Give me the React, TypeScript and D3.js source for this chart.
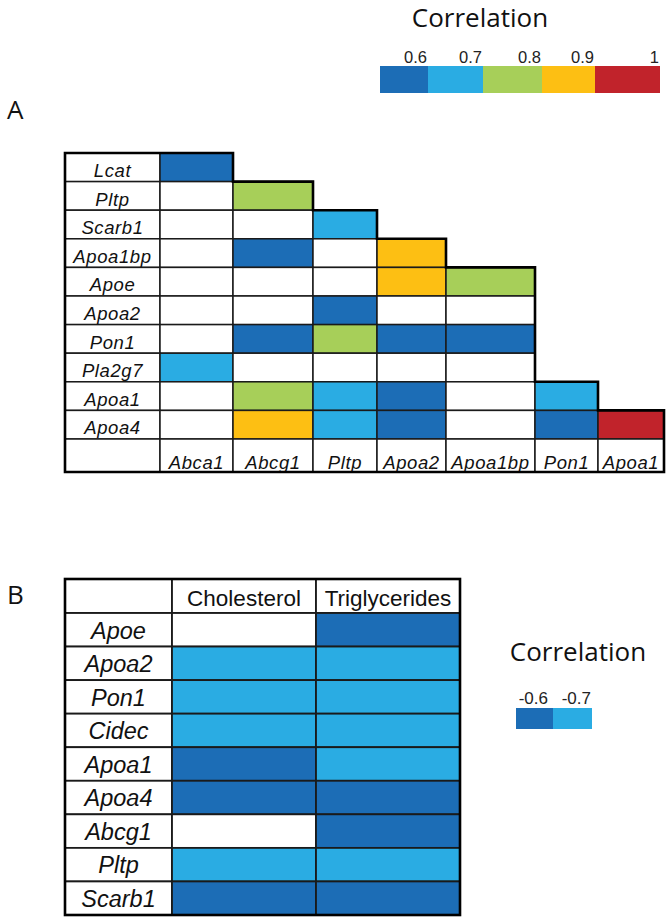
import React from "react";
import * as d3 from "d3";

// ---------- data ----------
const legendLevels = [0.6, 0.7, 0.8, 0.9, 1];
const legendColors = ["#1c6db6", "#2aace3", "#a7cf59", "#fdbf13", "#c1232b"];
const legendTickLabels = ["0.6", "0.7", "0.8", "0.9", "1"];

const rowsA = ["Lcat", "Pltp", "Scarb1", "Apoa1bp", "Apoe", "Apoa2", "Pon1", "Pla2g7", "Apoa1", "Apoa4"];
const colsA = ["Abca1", "Abcg1", "Pltp", "Apoa2", "Apoa1bp", "Pon1", "Apoa1"];
const valuesA: (number | null)[][] = [
  [0.6],
  [null, 0.8],
  [null, null, 0.7],
  [null, 0.6, null, 0.9],
  [null, null, null, 0.9, 0.8],
  [null, null, 0.6, null, null],
  [null, 0.6, 0.8, 0.6, 0.6],
  [0.7, null, null, null, null],
  [null, 0.8, 0.7, 0.6, null, 0.7],
  [null, 0.9, 0.7, 0.6, null, 0.6, 1],
];

const rowsB = ["Apoe", "Apoa2", "Pon1", "Cidec", "Apoa1", "Apoa4", "Abcg1", "Pltp", "Scarb1"];
const colsB = ["Cholesterol", "Triglycerides"];
const cholesterolB: (number | null)[] = [null, -0.7, -0.7, -0.7, -0.6, -0.6, null, -0.7, -0.6];
const triglyceridesB: (number | null)[] = [-0.6, -0.7, -0.7, -0.7, -0.7, -0.6, -0.6, -0.7, -0.6];
const legendBLevels = [-0.6, -0.7];
const legendBTickLabels = ["-0.6", "-0.7"];

// ---------- layout ----------
const W = 672;
const H = 923;
const LABEL_FONT = "'Liberation Sans', Arial, sans-serif";
const TITLE_FONT = "'Open Sans', 'Noto Sans', sans-serif";
const LINE = "#1a1a1a";

const legendX0 = 380;
const legendSegW = [48, 55, 59, 53, 65];
const legendY = 66;
const legendH = 27;

const aX0 = 65;
const aLabelW = 95;
const aColW = [73, 80, 64, 69, 89, 63, 66];
const aTop = 153;
const aRowsBottom = 439;
const aHeaderH = 33;

const bX0 = 65;
const bLabelW = 107;
const bColW = [144, 144];
const bTop = 579;
const bHeaderH = 34;
const bBottom = 915;

const bLegX0 = 516;
const bLegSegW = [37, 39];
const bLegY = 708;
const bLegH = 21;

const color = d3.scaleOrdinal<number, string>().domain(legendLevels).range(legendColors);
const colorB = d3.scaleOrdinal<number, string>().domain(legendBLevels).range([legendColors[0], legendColors[1]]);

function edges(x0: number, widths: number[]) {
  return [x0, ...Array.from(d3.cumsum(widths), (c) => x0 + c)];
}

export default function App() {
  // top legend
  const legEdges = edges(legendX0, legendSegW);
  const legX = d3.scaleOrdinal<number, number>().domain(legendLevels).range(legEdges.slice(0, -1));

  // panel A
  const aEdges = edges(aX0, [aLabelW, ...aColW]);
  const aY = d3.scaleBand<string>().domain(rowsA).range([aTop, aRowsBottom]).padding(0);
  const aBW = aY.bandwidth();
  const aHeaderTop = aRowsBottom;
  const aBottom = aRowsBottom + aHeaderH;

  // staircase outline
  const outline = d3.path();
  outline.moveTo(aX0, aTop);
  rowsA.forEach((r, i) => {
    const right = aEdges[valuesA[i].length + 1];
    const top = aY(r)!;
    outline.lineTo(right, top);
    const nextTop = i < rowsA.length - 1 ? aY(rowsA[i + 1])! : aHeaderTop;
    outline.lineTo(right, nextTop);
  });
  const fullRight = aEdges[aEdges.length - 1];
  outline.lineTo(fullRight, aHeaderTop);
  outline.lineTo(fullRight, aBottom);
  outline.lineTo(aX0, aBottom);
  outline.closePath();

  // panel B
  const bEdges = edges(bX0, [bLabelW, ...bColW]);
  const bY = d3.scaleBand<string>().domain(rowsB).range([bTop + bHeaderH, bBottom]).padding(0);
  const bBW = bY.bandwidth();
  const bValues = [cholesterolB, triglyceridesB];

  const bLegEdges = edges(bLegX0, bLegSegW);

  return (
    <svg width={W} height={H} style={{ position: "absolute", left: 0, top: 0, background: "#fff" }}>
      <rect x={0} y={0} width={W} height={H} fill="#fff" />

      {/* Top legend */}
      <text x={480} y={27} fontFamily={TITLE_FONT} fontSize={26} textAnchor="middle" fill="#111">
        Correlation
      </text>
      {legendLevels.map((lv, i) => (
        <g key={"leg" + i}>
          <rect x={legX(lv)} y={legendY} width={legendSegW[i]} height={legendH} fill={color(lv)} />
          <text
            x={legX(lv) + legendSegW[i] - 1}
            y={legendY - 3}
            fontFamily={LABEL_FONT}
            fontSize={16.5}
            textAnchor="end"
            fill="#222"
          >
            {legendTickLabels[i]}
          </text>
        </g>
      ))}

      {/* Panel A */}
      <text x={7} y={119} fontFamily={TITLE_FONT} fontSize={26} fill="#111">A</text>
      {rowsA.map((r, i) => {
        const y = aY(r)!;
        return (
          <g key={"ra" + r + i}>
            <rect x={aEdges[0]} y={y} width={aLabelW} height={aBW} fill="#fff" stroke={LINE} strokeWidth={1.5} />
            <text
              x={aEdges[0] + aLabelW / 2}
              y={y + aBW * 0.84}
              fontFamily={LABEL_FONT}
              fontStyle="italic"
              fontSize={18.5}
              letterSpacing={0.6}
              textAnchor="middle"
              fill="#111"
            >
              {r}
            </text>
            {valuesA[i].map((v, j) => (
              <rect
                key={"ca" + j}
                x={aEdges[j + 1]}
                y={y}
                width={aColW[j]}
                height={aBW}
                fill={v === null ? "#fff" : color(v)}
                stroke={LINE}
                strokeWidth={1.5}
              />
            ))}
          </g>
        );
      })}
      {/* header row A */}
      <rect x={aEdges[0]} y={aHeaderTop} width={aLabelW} height={aHeaderH} fill="#fff" stroke={LINE} strokeWidth={1.5} />
      {colsA.map((c, j) => (
        <g key={"ha" + j}>
          <rect x={aEdges[j + 1]} y={aHeaderTop} width={aColW[j]} height={aHeaderH} fill="#fff" stroke={LINE} strokeWidth={1.5} />
          <text
            x={aEdges[j + 1] + aColW[j] / 2}
            y={aBottom - 3}
            fontFamily={LABEL_FONT}
            fontStyle="italic"
            fontSize={18.5}
            letterSpacing={0.6}
            textAnchor="middle"
            fill="#111"
          >
            {c}
          </text>
        </g>
      ))}
      <path d={outline.toString()} fill="none" stroke="#000" strokeWidth={2.6} strokeLinejoin="miter" />

      {/* Panel B */}
      <text x={7} y={604} fontFamily={TITLE_FONT} fontSize={26} fill="#111">B</text>
      <rect x={bEdges[0]} y={bTop} width={bLabelW} height={bHeaderH} fill="#fff" stroke={LINE} strokeWidth={1.8} />
      {colsB.map((c, j) => (
        <g key={"hb" + j}>
          <rect x={bEdges[j + 1]} y={bTop} width={bColW[j]} height={bHeaderH} fill="#fff" stroke={LINE} strokeWidth={1.8} />
          <text
            x={bEdges[j + 1] + bColW[j] / 2}
            y={bTop + 27}
            fontFamily={LABEL_FONT}
            fontSize={22.5}
            textAnchor="middle"
            fill="#111"
          >
            {c}
          </text>
        </g>
      ))}
      {rowsB.map((r, i) => {
        const y = bY(r)!;
        return (
          <g key={"rb" + r}>
            <rect x={bEdges[0]} y={y} width={bLabelW} height={bBW} fill="#fff" stroke={LINE} strokeWidth={1.8} />
            <text
              x={bEdges[0] + bLabelW / 2}
              y={y + bBW * 0.76}
              fontFamily={LABEL_FONT}
              fontStyle="italic"
              fontSize={23.5}
              textAnchor="middle"
              fill="#111"
            >
              {r}
            </text>
            {bValues.map((vals, j) => {
              const v = vals[i];
              return (
                <rect
                  key={"cb" + j}
                  x={bEdges[j + 1]}
                  y={y}
                  width={bColW[j]}
                  height={bBW}
                  fill={v === null ? "#fff" : colorB(v)}
                  stroke={LINE}
                  strokeWidth={1.8}
                />
              );
            })}
          </g>
        );
      })}
      <rect
        x={bEdges[0]}
        y={bTop}
        width={bEdges[bEdges.length - 1] - bEdges[0]}
        height={bBottom - bTop}
        fill="none"
        stroke="#000"
        strokeWidth={2.6}
      />

      {/* Panel B legend */}
      <text x={578} y={661} fontFamily={TITLE_FONT} fontSize={26} textAnchor="middle" fill="#111">
        Correlation
      </text>
      {legendBLevels.map((lv, i) => (
        <g key={"legb" + i}>
          <rect x={bLegEdges[i]} y={bLegY} width={bLegSegW[i]} height={bLegH} fill={colorB(lv)} />
          <text
            x={bLegEdges[i] + bLegSegW[i] - (i === 0 ? 5 : 1)}
            y={bLegY - 4}
            fontFamily={LABEL_FONT}
            fontSize={17}
            textAnchor="end"
            fill="#222"
          >
            {legendBTickLabels[i]}
          </text>
        </g>
      ))}
    </svg>
  );
}
